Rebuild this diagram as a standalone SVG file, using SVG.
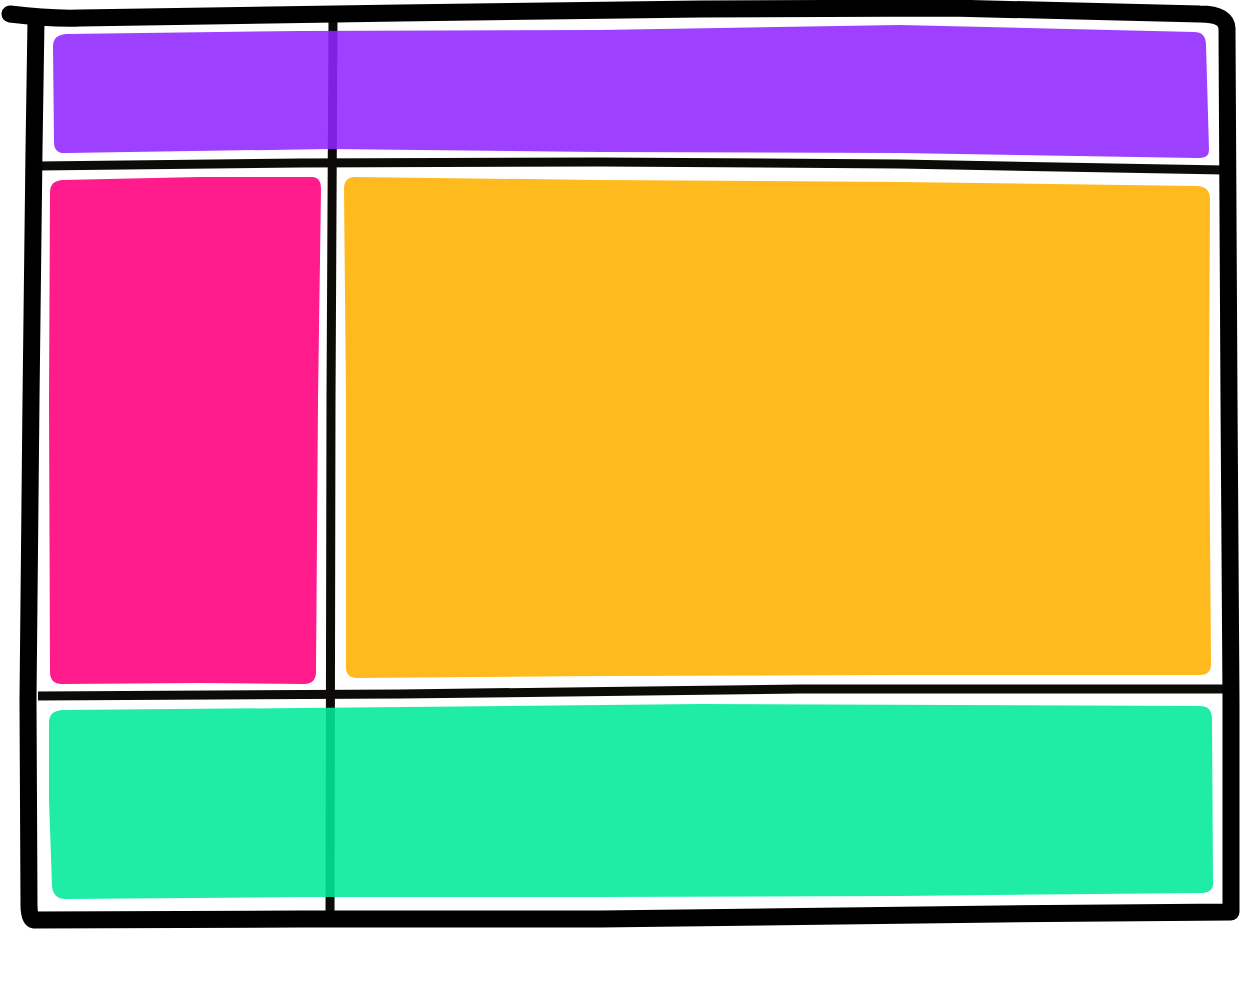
<svg xmlns="http://www.w3.org/2000/svg" width="1244" height="999" viewBox="0 0 1244 999">
<style>
.frame{fill:none;stroke:#000;stroke-width:17;stroke-linecap:round;stroke-linejoin:round}
.grid{fill:none;stroke:#0d0b07;stroke-width:9;stroke-linecap:butt}
</style>
<rect width="1244" height="999" fill="#fff"/>
<g id="grid-lines">
<path class="grid" d="M333 18 L331 400 L330 916"/>
<path class="grid" d="M38 166 L300 163 L600 162 L900 164 L1224 170"/>
<path class="grid" d="M38 696 L400 694 L800 689 L1226 689"/>
</g>
<g id="frame">
<path class="frame" d="M10 14 Q50 19 80 18 L400 13 L700 9 L950 8 L1200 14 Q1228 14 1227 30 L1229 400 L1231 700 L1231 912 L1000 914 L600 919 L300 919 L34 920 Q29 919 29 905 L28 700 L31 400 L34 150 L36 20"/>
</g>
<g id="header">
<path fill="rgb(144,38,255)" fill-opacity="0.88" d="M66 34 L300 31 L600 30 L900 25 L1194 32 Q1206 32 1206 45 L1209 150 Q1209 159 1197 158 L900 153 L600 152 L330 149 L66 153 Q54 154 54 142 L53 46 Q53 35 66 34 Z"/>
</g>
<g id="sidebar">
<path fill="#ff1b8c" d="M62 180 L200 177 L312 177 Q321 177 321 189 L318 400 L316 672 Q316 684 304 684 L200 683 L62 684 Q50 684 50 672 L49 400 L50 192 Q50 181 62 180 Z"/>
</g>
<g id="main">
<path fill="#ffba1e" d="M355 177 L600 180 L900 182 L1198 186 Q1210 187 1210 199 L1209 400 L1211 664 Q1211 675 1200 675 L900 675 L600 676 L357 678 Q346 678 346 667 L346 400 L344 189 Q344 177 355 177 Z"/>
</g>
<g id="footer">
<path fill="rgb(0,235,154)" fill-opacity="0.88" d="M62 710 L300 708 L700 704 L1200 706 Q1212 706 1212 719 L1213 880 Q1215 893 1200 893 L900 896 L600 897 L300 897 L66 899 Q53 899 52 886 L49 800 L49 722 Q49 711 62 710 Z"/>
</g>
</svg>
